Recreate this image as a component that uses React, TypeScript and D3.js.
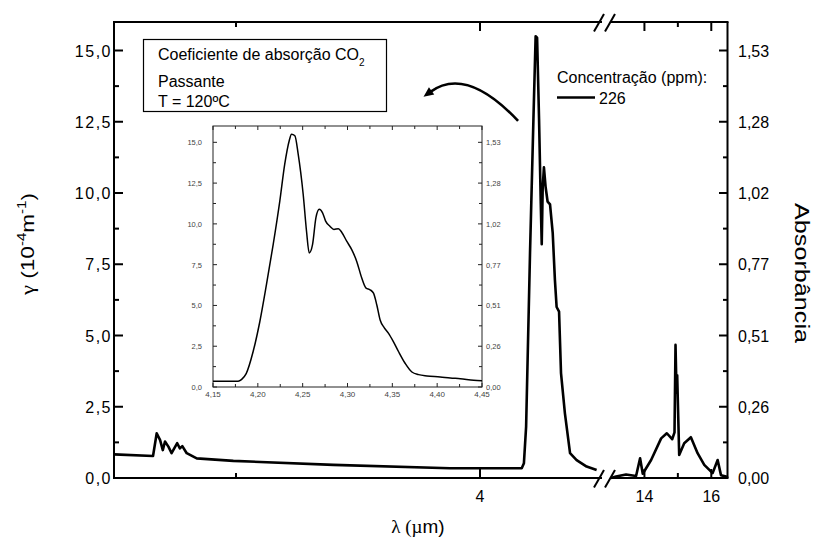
import React from "react";
import * as d3 from "d3";

// Absorption coefficient (10^-4 m^-1) for CO2, 226 ppm, T = 120 ºC
// Short-wavelength segment of the broken axis (µm)
const lowWave = [
  2.5, 2.66, 2.675, 2.689, 2.7, 2.709, 2.723, 2.736, 2.759, 2.77, 2.78, 2.798,
  2.839, 2.989, 3.399, 3.877, 4.171, 4.18, 4.189, 4.205, 4.219, 4.228, 4.234,
  4.242, 4.249, 4.253, 4.257, 4.262, 4.269, 4.277, 4.287, 4.298, 4.307, 4.314,
  4.324, 4.332, 4.348, 4.369, 4.396, 4.437, 4.478,
];
const lowGamma = [
  0.83, 0.77, 1.57, 1.33, 0.98, 1.28, 1.1, 0.87, 1.22, 1.04, 1.12, 0.87,
  0.69, 0.6, 0.46, 0.34, 0.34, 0.52, 1.8, 7.9, 12.6, 15.5, 15.45,
  12.6, 9.65, 8.2, 10.2, 10.9, 10.2, 9.7, 9.6, 8.6, 6.95, 6.0,
  5.84, 3.68, 2.27, 0.87, 0.63, 0.4, 0.28,
];

// Long-wavelength segment (µm)
const highWave = [
  13.0, 13.15, 13.45, 13.75, 13.87, 13.95, 14.2, 14.5, 14.67, 14.83, 14.9,
  14.93, 14.96, 14.98, 15.04, 15.19, 15.39, 15.59, 15.79, 16.04, 16.19,
  16.29, 16.44, 16.5,
];
const highGamma = [
  0.0, 0.05, 0.12, 0.07, 0.69, 0.15, 0.63, 1.39, 1.57, 1.36, 1.6,
  4.67, 3.0, 3.6, 0.81, 1.22, 1.43, 0.87, 0.46, 0.17, 0.63,
  0.1, 0.05, 0.03,
];

// Detail of the 4.3 µm band (inset)
const zoomWave = [
  4.15, 4.178, 4.1817, 4.187, 4.1947, 4.2022, 4.2096, 4.2171, 4.2245, 4.23,
  4.235, 4.2376, 4.2413, 4.245, 4.2506, 4.2543, 4.2573, 4.261, 4.2648, 4.2685,
  4.2722, 4.2756, 4.2804, 4.2849, 4.2898, 4.2935, 4.2991, 4.3047, 4.3103,
  4.3159, 4.3207, 4.3252, 4.329, 4.3327, 4.3364, 4.3409, 4.3458, 4.3513,
  4.357, 4.3644, 4.3718, 4.3793, 4.3886, 4.4034, 4.4146, 4.4258, 4.4407, 4.45,
];
const zoomGamma = [
  0.35, 0.35, 0.45, 0.82, 2.16, 4.0, 6.27, 8.73, 11.4, 13.66,
  15.1, 15.5, 15.4, 14.28, 11.8, 9.55, 8.22, 8.73, 10.38, 10.89,
  10.68, 10.17, 9.86, 9.66, 9.7, 9.49, 8.94, 8.42, 7.7,
  6.68, 6.06, 5.96, 5.75, 5.03, 4.11, 3.64, 3.29, 2.77,
  2.16, 1.44, 0.92, 0.76, 0.68, 0.62, 0.55, 0.51, 0.41, 0.39,
];

// Tick values and labels
const gammaMajor = [0, 2.5, 5, 7.5, 10, 12.5, 15];
const gammaMinor = [1.25, 3.75, 6.25, 8.75, 11.25, 13.75];
const gammaLabels = ["0,0", "2,5", "5,0", "7,5", "10,0", "12,5", "15,0"];
const absLabels = ["0,00", "0,26", "0,51", "0,77", "1,02", "1,28", "1,53"];
const lowMajor = [4];
const lowMinor = [3];
const highMajor = [14, 16];
const highMinor = [15];
const zoomMajor = [4.15, 4.2, 4.25, 4.3, 4.35, 4.4, 4.45];
const zoomMinor = [4.175, 4.225, 4.275, 4.325, 4.375, 4.425];
const zoomLabels = ["4,15", "4,20", "4,25", "4,30", "4,35", "4,40", "4,45"];

const legendTitle = "Concentração (ppm):";
const seriesName = "226";

const SANS = "'Liberation Sans', Arial, Helvetica, sans-serif";
const SERIF = "'Liberation Serif', 'Times New Roman', serif";

const W = 822;
const H = 539;
const L = 114;
const R = 728;
const T = 22;
const B = 478;
const BREAK_L = 602;
const BREAK_R = 611;

export default function App() {
  const xLow = d3.scaleLinear().domain([2.5, 4.5]).range([L, BREAK_L]);
  const xHigh = d3.scaleLinear().domain([13, 16.5]).range([BREAK_R, R]);
  const y = d3.scaleLinear().domain([0, 16]).range([B, T]);

  const ix = d3.scaleLinear().domain([4.15, 4.45]).range([213, 482]);
  const iy = d3.scaleLinear().domain([0, 16]).range([387, 126]);

  const lowPts: [number, number][] = lowWave.map((w, i) => [w, lowGamma[i]]);
  const highPts: [number, number][] = highWave.map((w, i) => [w, highGamma[i]]);
  const zoomPts: [number, number][] = zoomWave.map((w, i) => [w, zoomGamma[i]]);

  const lowLine = d3.line<[number, number]>().x((d) => xLow(d[0])).y((d) => y(d[1]));
  const highLine = d3.line<[number, number]>().x((d) => xHigh(d[0])).y((d) => y(d[1]));
  const zoomLine = d3
    .line<[number, number]>()
    .x((d) => ix(d[0]))
    .y((d) => iy(d[1]))
    .curve(d3.curveMonotoneX);

  // curved arrow pointing from the band towards the inset
  const a0: [number, number] = [xLow(4.156), y(12.53)];
  const ac: [number, number] = [xLow(3.943), y(14.47)];
  const a1: [number, number] = [xLow(3.795), y(13.54)];
  const arrowPath = `M${a0[0]},${a0[1]} Q${ac[0]},${ac[1]} ${a1[0]},${a1[1]}`;
  const dx = a1[0] - ac[0];
  const dy = a1[1] - ac[1];
  const len = Math.hypot(dx, dy);
  const ux = dx / len;
  const uy = dy / len;
  const tip: [number, number] = [a1[0] + ux * 8, a1[1] + uy * 8];
  const bl: [number, number] = [a1[0] - uy * 4.5 - ux * 2, a1[1] + ux * 4.5 - uy * 2];
  const br: [number, number] = [a1[0] + uy * 4.5 - ux * 2, a1[1] - ux * 4.5 - uy * 2];

  const slash = (cx: number, cy: number, key: string) => (
    <g key={key}>
      <line x1={cx - 11} y1={cy + 9.5} x2={cx - 1} y2={cy - 8} stroke="#000" strokeWidth={2} />
      <line x1={cx} y1={cy + 9.5} x2={cx + 10} y2={cy - 8} stroke="#000" strokeWidth={2} />
    </g>
  );

  return (
    <svg width={W} height={H} style={{ position: "absolute", left: 0, top: 0, background: "#fff" }}>
      <rect width={W} height={H} fill="#fff" />

      {/* frame: left and right axes */}
      <line x1={L} y1={T} x2={L} y2={B} stroke="#000" strokeWidth={2} />
      <line x1={R - 0.5} y1={T} x2={R - 0.5} y2={B} stroke="#000" strokeWidth={2} />
      {/* top and bottom axes, interrupted at the break */}
      {[T, B].map((yy) => (
        <g key={`ax${yy}`}>
          <line x1={L - 1} y1={yy} x2={BREAK_L} y2={yy} stroke="#000" strokeWidth={2} />
          <line x1={BREAK_R - 1} y1={yy} x2={R + 0.5} y2={yy} stroke="#000" strokeWidth={2} />
        </g>
      ))}
      {slash(605, T, "sT")}
      {slash(605, B, "sB")}

      {/* left and right axis ticks */}
      {gammaMajor.map((v, i) => (
        <g key={`gm${v}`}>
          <line x1={L} y1={y(v)} x2={L + 9} y2={y(v)} stroke="#000" strokeWidth={2} />
          <line x1={R - 9} y1={y(v)} x2={R} y2={y(v)} stroke="#000" strokeWidth={2} />
          <text
            x={112}
            y={y(v) + 6}
            textAnchor="end"
            fontFamily={SANS}
            fontSize={16}
            letterSpacing={1.5}
          >
            {gammaLabels[i]}
          </text>
          <text x={738} y={y(v) + 6} fontFamily={SANS} fontSize={16}>
            {absLabels[i]}
          </text>
        </g>
      ))}
      {gammaMinor.map((v) => (
        <g key={`gn${v}`}>
          <line x1={L} y1={y(v)} x2={L + 5} y2={y(v)} stroke="#000" strokeWidth={2} />
          <line x1={R - 5} y1={y(v)} x2={R} y2={y(v)} stroke="#000" strokeWidth={2} />
        </g>
      ))}

      {/* top and bottom ticks */}
      {[
        ...lowMajor.map((v) => ({ px: xLow(v), major: true, label: String(v) })),
        ...lowMinor.map((v) => ({ px: xLow(v), major: false, label: "" })),
        ...highMajor.map((v) => ({ px: xHigh(v), major: true, label: String(v) })),
        ...highMinor.map((v) => ({ px: xHigh(v), major: false, label: "" })),
      ].map((t, i) => (
        <g key={`xt${i}`}>
          <line x1={t.px} y1={B} x2={t.px} y2={B - (t.major ? 9 : 5)} stroke="#000" strokeWidth={2} />
          <line x1={t.px} y1={T} x2={t.px} y2={T + (t.major ? 9 : 5)} stroke="#000" strokeWidth={2} />
          {t.label && (
            <text x={t.px} y={502} textAnchor="middle" fontFamily={SANS} fontSize={16}>
              {t.label}
            </text>
          )}
        </g>
      ))}

      {/* spectrum */}
      <path d={lowLine(lowPts) || ""} fill="none" stroke="#000" strokeWidth={2.6} strokeLinejoin="round" />
      <path d={highLine(highPts) || ""} fill="none" stroke="#000" strokeWidth={2.6} strokeLinejoin="round" />

      {/* axis titles */}
      <text x={418} y={533} textAnchor="middle" fontFamily={SANS} fontSize={19}>
        <tspan fontFamily={SERIF}>λ (</tspan>
        <tspan fontFamily={SERIF}>µ</tspan>
        <tspan>m)</tspan>
      </text>
      <text
        transform="translate(34,244) rotate(-90)"
        textAnchor="middle"
        fontFamily={SANS}
        fontSize={18}
        textLength={102}
        lengthAdjust="spacingAndGlyphs"
      >
        <tspan fontFamily={SERIF}>γ</tspan>
        <tspan> (10</tspan>
        <tspan fontSize={12} dy={-8}>-4</tspan>
        <tspan dy={8}>m</tspan>
        <tspan fontSize={12} dy={-8}>-1</tspan>
        <tspan dy={8}>)</tspan>
      </text>
      <text
        transform="translate(795,273) rotate(90)"
        textAnchor="middle"
        fontFamily={SANS}
        fontSize={20}
        textLength={140}
        lengthAdjust="spacingAndGlyphs"
      >
        Absorbância
      </text>

      {/* info box */}
      <rect x={143.5} y={39.5} width={243} height={72} fill="#fff" stroke="#000" strokeWidth={1.2} />
      <text x={158} y={60} fontFamily={SANS} fontSize={16}>
        Coeficiente de absorção CO
        <tspan fontSize={10} dy={6}>2</tspan>
      </text>
      <text x={158} y={87} fontFamily={SANS} fontSize={16}>
        Passante
      </text>
      <text x={158} y={106.5} fontFamily={SANS} fontSize={16}>
        T = 120ºC
      </text>

      {/* legend */}
      <text x={557} y={83} fontFamily={SANS} fontSize={16}>
        {legendTitle}
      </text>
      <line x1={557} y1={97.5} x2={595} y2={97.5} stroke="#000" strokeWidth={2.6} />
      <text x={599} y={103.5} fontFamily={SANS} fontSize={16}>
        {seriesName}
      </text>

      {/* arrow */}
      <path d={arrowPath} fill="none" stroke="#000" strokeWidth={2.6} />
      <polygon points={[tip, bl, br].map((p) => p.join(",")).join(" ")} fill="#000" />

      {/* inset */}
      <g>
        <rect x={213} y={126} width={269} height={261} fill="#fff" stroke="#222" strokeWidth={1} />
        {gammaMajor.map((v, i) => (
          <g key={`im${v}`}>
            <line x1={213} y1={iy(v)} x2={217} y2={iy(v)} stroke="#222" />
            <line x1={478} y1={iy(v)} x2={482} y2={iy(v)} stroke="#222" />
            <text x={202} y={iy(v) + 3} textAnchor="end" fontFamily={SANS} fontSize={7.5} fill="#444">
              {gammaLabels[i]}
            </text>
            <text x={486} y={iy(v) + 3} fontFamily={SANS} fontSize={7.5} fill="#444">
              {absLabels[i]}
            </text>
          </g>
        ))}
        {gammaMinor.map((v) => (
          <g key={`in${v}`}>
            <line x1={213} y1={iy(v)} x2={216} y2={iy(v)} stroke="#222" />
            <line x1={479} y1={iy(v)} x2={482} y2={iy(v)} stroke="#222" />
          </g>
        ))}
        {zoomMajor.map((v, i) => (
          <g key={`izm${v}`}>
            <line x1={ix(v)} y1={387} x2={ix(v)} y2={383} stroke="#222" />
            <line x1={ix(v)} y1={126} x2={ix(v)} y2={130} stroke="#222" />
            <text x={ix(v)} y={397} textAnchor="middle" fontFamily={SANS} fontSize={8} fill="#444">
              {zoomLabels[i]}
            </text>
          </g>
        ))}
        {zoomMinor.map((v) => (
          <g key={`izn${v}`}>
            <line x1={ix(v)} y1={387} x2={ix(v)} y2={384} stroke="#222" />
            <line x1={ix(v)} y1={126} x2={ix(v)} y2={129} stroke="#222" />
          </g>
        ))}
        <path d={zoomLine(zoomPts) || ""} fill="none" stroke="#000" strokeWidth={1.5} strokeLinejoin="round" />
      </g>
    </svg>
  );
}
